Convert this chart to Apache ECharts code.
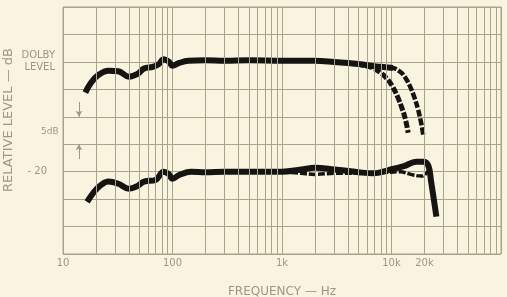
<!DOCTYPE html>
<html>
<head>
<meta charset="utf-8">
<script src="https://cdn.jsdelivr.net/npm/echarts@6/dist/echarts.min.js"></script>
<style>
html,body{margin:0;padding:0;background:#f8f4e0;}
#c{width:507px;height:297px;}
</style>
</head>
<body>
<div id="c"></div>
<script>
// ---- data (frequency in Hz, level in dB re Dolby level) ----
var xTickValues = [10, 100, 1000, 10000, 20000];
var xTickLabels = ['10', '100', '1k', '10k', '20k'];
var yTickLabels = {0: 'DOLBY\nLEVEL', '-20': '- 20'};

var upperMainFreq = [16, 18, 21, 26, 32, 40, 48, 55, 66, 75, 83, 92, 100, 115, 140, 200, 300, 500, 1000, 2000, 3000, 4000, 5000, 6000, 7000, 8000, 9000, 10300];
var upperMainDb   = [-5.6, -3.8, -2.4, -1.6, -1.7, -2.7, -2.2, -1.2, -0.9, -0.4, 0.5, 0.1, -0.7, -0.2, 0.2, 0.3, 0.2, 0.3, 0.2, 0.2, 0.0, -0.2, -0.4, -0.6, -0.8, -0.9, -1.0, -1.1];

var upperDashAFreq = [4000, 5500, 6750, 8000, 9300, 10300, 11500, 12500, 13300, 14200];
var upperDashADb   = [-0.2, -0.6, -1.1, -2.0, -3.3, -4.6, -6.6, -8.5, -10.2, -12.9];

var upperDashBFreq = [8000, 10300, 12000, 13300, 14800, 16200, 17500, 18600, 19500];
var upperDashBDb   = [-0.9, -1.1, -1.8, -2.8, -4.5, -6.5, -8.7, -11.0, -13.3];

var lowerMainFreq = [16.6, 19, 22, 26, 32, 40, 48, 55, 70, 83, 92, 100, 115, 148, 200, 300, 500, 1000, 1500, 2000, 3000, 5000, 6750, 8000, 10300, 13000, 16800, 19500, 21700, 23000, 25700];
var lowerMainDb   = [-25.5, -23.8, -22.5, -21.8, -22.2, -23.1, -22.6, -21.8, -21.5, -20.0, -20.4, -21.3, -20.6, -20.0, -20.1, -20.0, -20.0, -20.0, -19.6, -19.3, -19.6, -20.1, -20.3, -20.1, -19.5, -19.0, -18.2, -18.2, -18.9, -21.8, -28.2];

var lowerDashFreq = [1000, 1500, 2000, 3000, 5000, 8000, 12000, 15000, 18700, 20500, 21700];
var lowerDashDb   = [-20.0, -20.3, -20.5, -20.3, -20.3, -20.2, -20.0, -20.5, -20.8, -20.4, -19.8];

// ---- helpers ----
function pairs(f, d) { return f.map(function (v, i) { return [v, d[i]]; }); }
var minorLines = [];
[10, 100, 1000, 10000].forEach(function (dec) {
  for (var k = 2; k <= 9; k++) minorLines.push({xAxis: dec * k});
});

var gridColor = '#a9a38c';
var textColor = '#9d9782';
var ink = '#161412';

var chart = echarts.init(document.getElementById('c'), null, {renderer: 'canvas'});
chart.setOption({
  backgroundColor: '#f8f4e0',
  animation: false,
  textStyle: {fontFamily: 'DejaVu Sans'},
  grid: {left: 63, right: 6, top: 7, bottom: 43, show: true, borderColor: gridColor, borderWidth: 1,
         containLabel: false, outerBoundsMode: 'none'},
  xAxis: {
    type: 'log', logBase: 10, min: 10, max: 100000,
    axisLine: {show: false}, axisTick: {show: false},
    splitLine: {show: true, lineStyle: {color: gridColor, width: 1}},
    axisLabel: {
      customValues: xTickValues,
      color: textColor, fontSize: 10, margin: 4,
      formatter: function (v) { var i = xTickValues.indexOf(Math.round(v)); return i >= 0 ? xTickLabels[i] : ''; }
    },
    name: 'FREQUENCY — Hz', nameLocation: 'middle', nameGap: 32, nameMoveOverlap: false,
    nameTextStyle: {color: textColor, fontSize: 12}
  },
  yAxis: {
    type: 'value', min: -35, max: 10, interval: 5,
    axisLine: {show: false}, axisTick: {show: false},
    splitLine: {show: true, lineStyle: {color: gridColor, width: 1}},
    axisLabel: {
      color: textColor, fontSize: 10, margin: 8, lineHeight: 12,
      formatter: function (v) {
        if (v === 0) return '{d|DOLBY}\n{d|LEVEL}';
        if (v === -20) return '{n|' + yTickLabels['-20'] + '}';
        return '';
      },
      rich: {d: {color: textColor, fontSize: 10, lineHeight: 12}, n: {color: textColor, fontSize: 10, padding: [0, 8, 0, 0]}}
    }
  },
  graphic: [
    {type: 'text', x: 9, y: 120, rotation: Math.PI / 2,
     style: {text: 'RELATIVE LEVEL — dB', fill: textColor, fontSize: 13, fontFamily: 'DejaVu Sans', align: 'center', verticalAlign: 'middle'}},
    {type: 'text', left: 41, top: 127, style: {text: '5dB', fill: textColor, fontSize: 9, fontFamily: 'DejaVu Sans'}}
  ],
  series: [
    {type: 'line', data: [], silent: true,
     markLine: {silent: true, symbol: 'none', label: {show: false}, lineStyle: {color: gridColor, type: 'solid', width: 1}, data: minorLines}},
    {type: 'line', data: [], silent: true,
     markLine: {silent: true, label: {show: false}, symbolSize: [5, 6], lineStyle: {color: textColor, type: 'solid', width: 1},
       data: [
         [{coord: [14, -7.3], symbol: 'none'}, {coord: [14, -10], symbol: 'arrow'}],
         [{coord: [14, -17.7], symbol: 'none'}, {coord: [14, -15], symbol: 'arrow'}]
       ]}},
    {type: 'line', data: pairs(upperMainFreq, upperMainDb), smooth: 0.4, symbol: 'none', lineStyle: {color: ink, width: 6}},
    {type: 'line', data: pairs(upperDashAFreq, upperDashADb), smooth: 0.4, symbol: 'none', lineStyle: {color: ink, width: 5, type: [7, 2]}},
    {type: 'line', data: pairs(upperDashBFreq, upperDashBDb), smooth: 0.4, symbol: 'none', lineStyle: {color: ink, width: 4.5, type: [7, 2]}},
    {type: 'line', data: pairs(lowerMainFreq, lowerMainDb), smooth: 0.4, symbol: 'none', lineStyle: {color: ink, width: 6}},
    {type: 'line', data: pairs(lowerDashFreq, lowerDashDb), smooth: 0.4, symbol: 'none', lineStyle: {color: ink, width: 3.5, type: [7, 2]}}
  ]
});
</script>
</body>
</html>
